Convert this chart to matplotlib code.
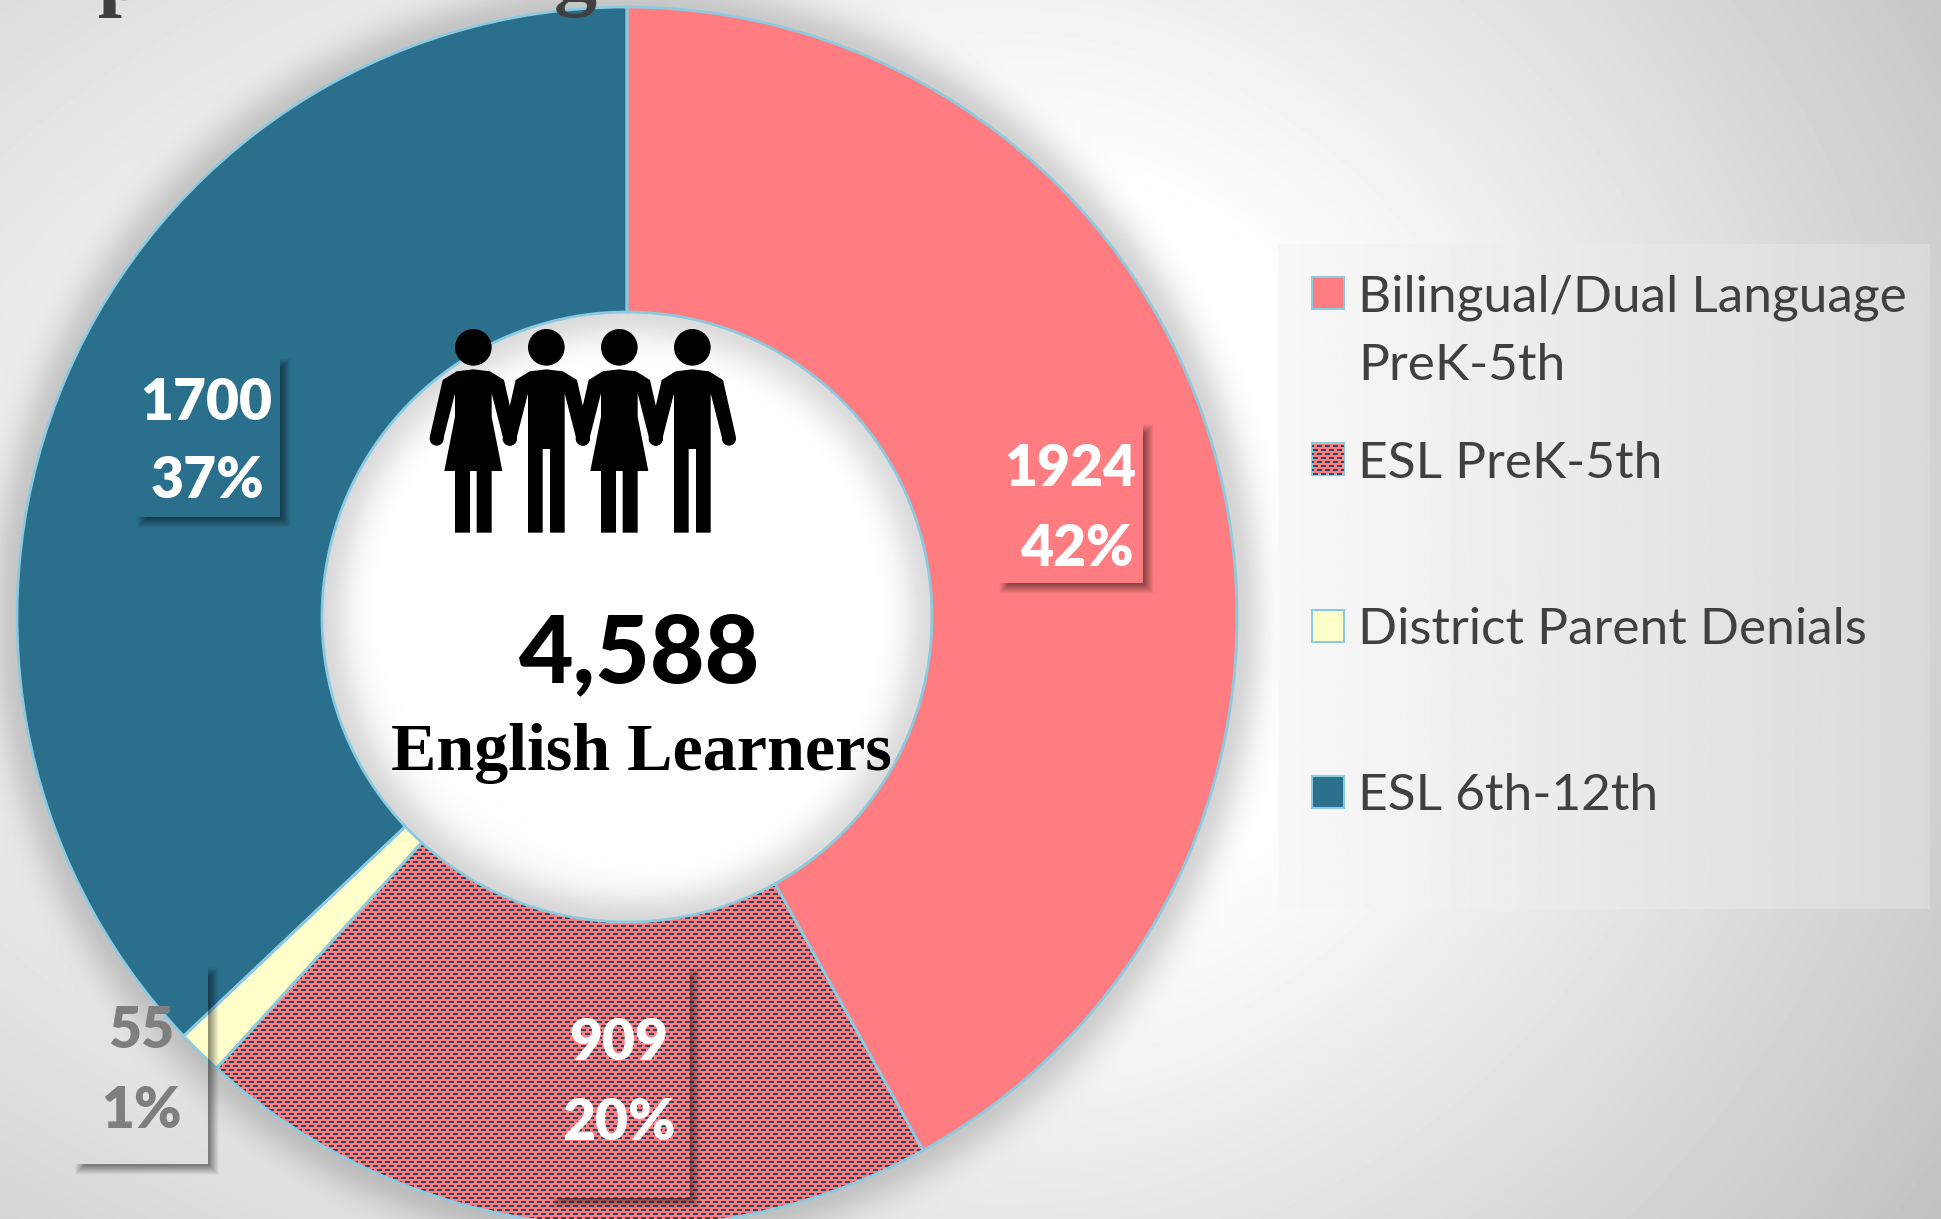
import matplotlib
matplotlib.use("Agg")
import matplotlib.pyplot as plt
from matplotlib.patches import Circle, Polygon, Rectangle
import numpy as np

# Data
categories = ["Bilingual/Dual Language\nPreK-5th", "ESL PreK-5th", "District Parent Denials", "ESL 6th-12th"]
counts = [1924, 909, 55, 1700]
percents = ["42%", "20%", "1%", "37%"]
total_label = "4,588"
center_label = "English Learners"

PINK = "#ff7c80"
TEAL = "#2a6f8c"
YELLOW = "#ffffcc"
DASH = "#1f5068"
EDGE = "#8ccae0"
colors = [PINK, PINK, YELLOW, TEAL]

W, H = 1941, 1219
CX, CY, R = 627, 617, 610

fig = plt.figure(figsize=(W / 100, H / 100), dpi=100)
ax = fig.add_axes([0, 0, 1, 1])
extent = (0, W, H, 0)
xx, yy = np.meshgrid(np.arange(W) + 0.5, np.arange(H) + 0.5)

# Background: off-centre radial gradient plus the soft shadow of the ring
dx = xx - 1000
dx = np.where(dx < 0, dx * 0.6, dx)
d = np.hypot(dx, yy - 550)
bg = 255 - 0.08 * np.clip(d - 380, 0, None)
rr = np.hypot(xx - CX, yy - CY)
shadow = 0.17 * np.exp(-((rr - R).clip(0) / 28) ** 2) * (rr >= R)
shadow += 0.14 * np.exp(-(((R / 2 - rr).clip(0)) / 28) ** 2) * (rr <= R / 2)
bg = bg * (1 - shadow)
ax.imshow(bg, cmap="gray", vmin=0, vmax=255, extent=extent, zorder=0, interpolation="bilinear")

# Donut, y axis is inverted so that the axes work in image pixels
wedges, _ = ax.pie(counts, colors=colors, startangle=-90, counterclock=True,
                   center=(CX, CY), radius=R,
                   wedgeprops=dict(width=R / 2, linewidth=0, zorder=1))


def dash_texture():
    # brick pattern of small dashes on pink, 8 px wide and 8 px tall per tile
    tile = np.zeros((8, 8, 4))
    tile[..., :3] = matplotlib.colors.to_rgb(DASH)
    tile[1:3, 1:6, 3] = 1
    tile[5:7, 5:8, 3] = 1
    tile[5:7, 0:2, 3] = 1
    return np.tile(tile, (H // 8 + 1, W // 8 + 1, 1))[:H, :W]


tex = ax.imshow(dash_texture(), extent=extent, zorder=1.5, interpolation="nearest")
tex.set_clip_path(wedges[1])

ax.pie(counts, startangle=-90, counterclock=True, center=(CX, CY), radius=R,
       wedgeprops=dict(width=R / 2, linewidth=2, facecolor="none", edgecolor=EDGE, zorder=2))

ax.set_xlim(0, W)
ax.set_ylim(H, 0)
ax.set_axis_off()


def box_shadow(x0, y0, x1, y1, off=6, blur=10, strength=0.45):
    # drop shadow to the lower right, hidden inside the box itself
    ddx = np.maximum(x0 + off - xx, xx - (x1 + off))
    ddy = np.maximum(y0 + off - yy, yy - (y1 + off))
    dist = np.maximum(ddx, ddy)
    a = strength * np.clip(0.5 - dist / blur, 0, 1)
    inside = (xx > x0) & (xx < x1) & (yy > y0) & (yy < y1)
    a[inside] = 0
    rgba = np.zeros((H, W, 4))
    rgba[..., 3] = a
    ax.imshow(rgba, extent=extent, zorder=3, interpolation="bilinear")


# Data label boxes
boxes = [(998, 423, 1143, 583), (551, 966, 690, 1198), (74, 966, 208, 1164), (136, 357, 280, 517)]
box_fill = [PINK, None, None, TEAL]
label_x = [(1070, 1077), (619, 619), (141, 141), (206, 207)]
label_y = [(465, 544), (1039, 1118), (1027, 1106), (398, 477)]
label_col = ["white", "white", "#7f7f7f", "white"]

for i in range(4):
    x0, y0, x1, y1 = boxes[i]
    box_shadow(x0, y0, x1, y1)
    if box_fill[i]:
        ax.add_patch(Rectangle((x0, y0), x1 - x0, y1 - y0, facecolor=box_fill[i], edgecolor="none", zorder=3.2))
    ax.text(label_x[i][0], label_y[i][0], str(counts[i]), color=label_col[i], fontsize=41, family="Lato",
            weight="heavy", ha="center", va="center_baseline", zorder=4)
    ax.text(label_x[i][1], label_y[i][1], percents[i], color=label_col[i], fontsize=41, family="Lato",
            weight="heavy", ha="center", va="center_baseline", zorder=4)

# Centre text
ax.text(640, 647, total_label, fontsize=68, family="Lato", weight="black", color="black",
        ha="center", va="center_baseline", zorder=4)
ax.text(641, 770, center_label, fontsize=49, family="Liberation Serif", weight="bold", color="black",
        ha="center", va="baseline", zorder=4)


# People icon, outline in units of 1/3 px around each figure's axis
def person(cx, woman):
    half = [(0, 208), (-50, 214), (-92, 240), (-130, 408), (-92, 425), (-55, 280)]
    if woman:
        half += [(-55, 350), (-87, 513), (-55, 513), (-55, 698), (-10, 698), (-10, 513), (0, 513)]
    else:
        half += [(-55, 698), (-11, 698), (-11, 447), (0, 447)]
    half = np.array(half, dtype=float)
    mirror = half[::-1] * [-1, 1]
    pts = np.vstack([half, mirror])
    pts[:, 0] = 400 + (pts[:, 0] + cx) / 3
    pts[:, 1] = 300 + pts[:, 1] / 3
    ax.add_patch(Polygon(pts, facecolor="black", edgecolor="none", zorder=4))
    ax.add_patch(Circle((400 + cx / 3, 300 + 142 / 3), 55 / 3, facecolor="black", edgecolor="none", zorder=4))
    for s in (-1, 1):
        ax.add_patch(Circle((400 + (cx + s * 110) / 3, 300 + 416 / 3), 21 / 3, facecolor="black",
                            edgecolor="none", zorder=4))


for cx, woman in [(220, True), (439, False), (658, True), (877, False)]:
    person(cx, woman)

# Cut-off title at the top edge: only the descenders are in frame
ax.text(122, -1, "p", fontsize=62, family="Liberation Serif", weight="bold", color="#404040",
        ha="center", va="baseline", zorder=4)
ax.text(575, -1, "g", fontsize=62, family="Liberation Serif", weight="bold", color="#404040",
        ha="center", va="baseline", zorder=4)

# Legend panel and entries
panel = np.linspace(248, 218, 256).reshape(1, -1)
ax.imshow(panel, cmap="gray", vmin=0, vmax=255, extent=(1278, 1930, 909, 244), aspect="auto",
          zorder=3, interpolation="bilinear")
swatch_y = [293, 459, 626, 792]
for i in range(4):
    sw = Rectangle((1312, swatch_y[i] - 16), 32, 32, facecolor=colors[i], edgecolor=EDGE, linewidth=1.5, zorder=4)
    ax.add_patch(sw)
    if i == 1:
        t = ax.imshow(dash_texture(), extent=extent, zorder=4.1, interpolation="nearest")
        t.set_clip_path(sw)
    lines = categories[i].split("\n")
    for j in range(len(lines)):
        ax.text(1358, swatch_y[i] + j * 68, lines[j], fontsize=37, family="Lato", color="#404040",
                ha="left", va="center_baseline", zorder=4)

ax.set_aspect("auto")
ax.set_xlim(0, W)
ax.set_ylim(H, 0)
fig.savefig("out.png", dpi=100)
